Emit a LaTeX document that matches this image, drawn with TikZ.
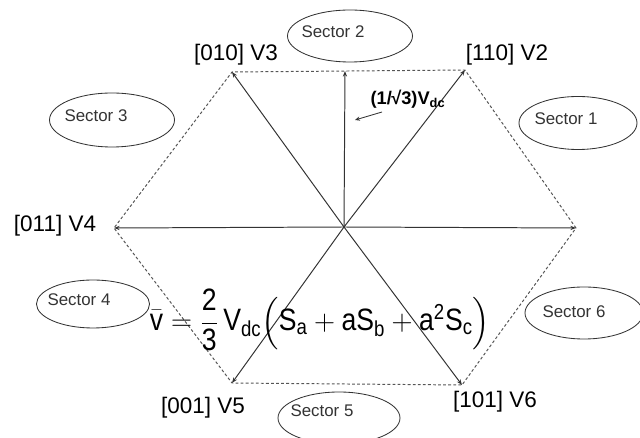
\documentclass[tikz,border=0pt]{standalone}
\usepackage{amsmath}
\usepackage{fontspec}
\setmainfont{Liberation Sans}
\newfontfamily\eqfont[FakeStretch=0.86]{Liberation Sans}
\usetikzlibrary{arrows.meta,calc,shapes.geometric}
\definecolor{inkgray}{HTML}{333333}
\definecolor{dashgray}{HTML}{555555}

\begin{document}
\begin{tikzpicture}[
  x=0.025cm, y=-0.025cm,
  >={Stealth[length=4pt,width=3pt]},
  spoke/.style={->, inkgray, line width=0.7pt},
  hexside/.style={dashgray, line width=0.7pt, dash pattern=on 2pt off 1.6pt},
  sector/.style={draw, ellipse, inkgray, line width=0.6pt, inner sep=0pt},
  sectxt/.style={font=\fontsize{12}{14}\selectfont, text=inkgray},
  vlab/.style={font=\fontsize{16}{19}\selectfont, text=black}
]
\useasboundingbox (0,0) rectangle (640,438);
% ---- hexagon vertices ----
\coordinate (O)  at (344,227);
\coordinate (V1) at (576,228);
\coordinate (V2) at (465,70);
\coordinate (V3) at (232,72);
\coordinate (V4) at (114,228);
\coordinate (V5) at (232,383);
\coordinate (V6) at (462,385);
\coordinate (T)  at (345,71);
% ---- dashed hexagon ----
\draw[hexside] (V1) -- (V2) -- (V3) -- (V4) -- (V5) -- (V6) -- cycle;
% ---- space vectors ----
\foreach \v in {V1,V2,V3,V4,V5,V6,T}
  \draw[spoke] (O) -- (\v);
% ---- vertex labels ----
\node[vlab] (l1) at (236,55)  {[010] V3};
\node[vlab] (l2) at (507,55)  {[110] V2};
\node[vlab] (l3) at (55,226)  {[011] V4};
\node[vlab] (l4) at (203,408) {[001] V5};
\node[vlab] (l5) at (495,402) {[101] V6};
% ---- magnitude label ----
\node[font=\bfseries\fontsize{13}{15}\selectfont] (mag) at (408,99)
  {(1/\kern-0.5pt√3)V\textsubscript{dc}};
\coordinate (magtail) at (382,112);
\coordinate (magtip)  at (355,120);
\draw[->, inkgray, line width=0.6pt, >={Stealth[length=3.5pt,width=3pt]}]
  (magtail) -- (magtip);
% ---- sectors ----
\node[sector, minimum width=125*0.025cm, minimum height=52*0.025cm] (s2) at (350,36)  {};
\node[sector, minimum width=125*0.025cm, minimum height=54*0.025cm] (s3) at (112,120) {};
\node[sector, minimum width=118*0.025cm, minimum height=53*0.025cm] (s1) at (578,123) {};
\node[sector, minimum width=113*0.025cm, minimum height=48*0.025cm] (s4) at (93,304)  {};
\node[sector, minimum width=118*0.025cm, minimum height=52*0.025cm] (s6) at (584,313) {};
\node[sector, minimum width=122*0.025cm, minimum height=52*0.025cm] (s5) at (339,418) {};
\node[sectxt] at ($(s2)+(-17,-4)$) {Sector 2};
\node[sectxt] at ($(s3)+(-16,-4)$) {Sector 3};
\node[sectxt] at ($(s1)+(-12,-4)$) {Sector 1};
\node[sectxt] at ($(s4)+(-14,-4)$) {Sector 4};
\node[sectxt] at ($(s6)+(-10,-1)$) {Sector 6};
\node[sectxt] at ($(s5)+(-17,-7)$) {Sector 5};
% ---- switching function ----
\node[font=\eqfont\fontsize{22}{26}\selectfont, inner sep=0pt] (eq) at (320,320)
  {$\bar{\text{v}} = \dfrac{\text{2}}{\text{3}}\,\text{V}_{\text{dc}}
    \Bigl(\text{S}_{\text{a}} + \text{aS}_{\text{b}}
    + \text{a}^{\text{2}}\text{S}_{\text{c}}\Bigr)$};
\end{tikzpicture}
\end{document}
